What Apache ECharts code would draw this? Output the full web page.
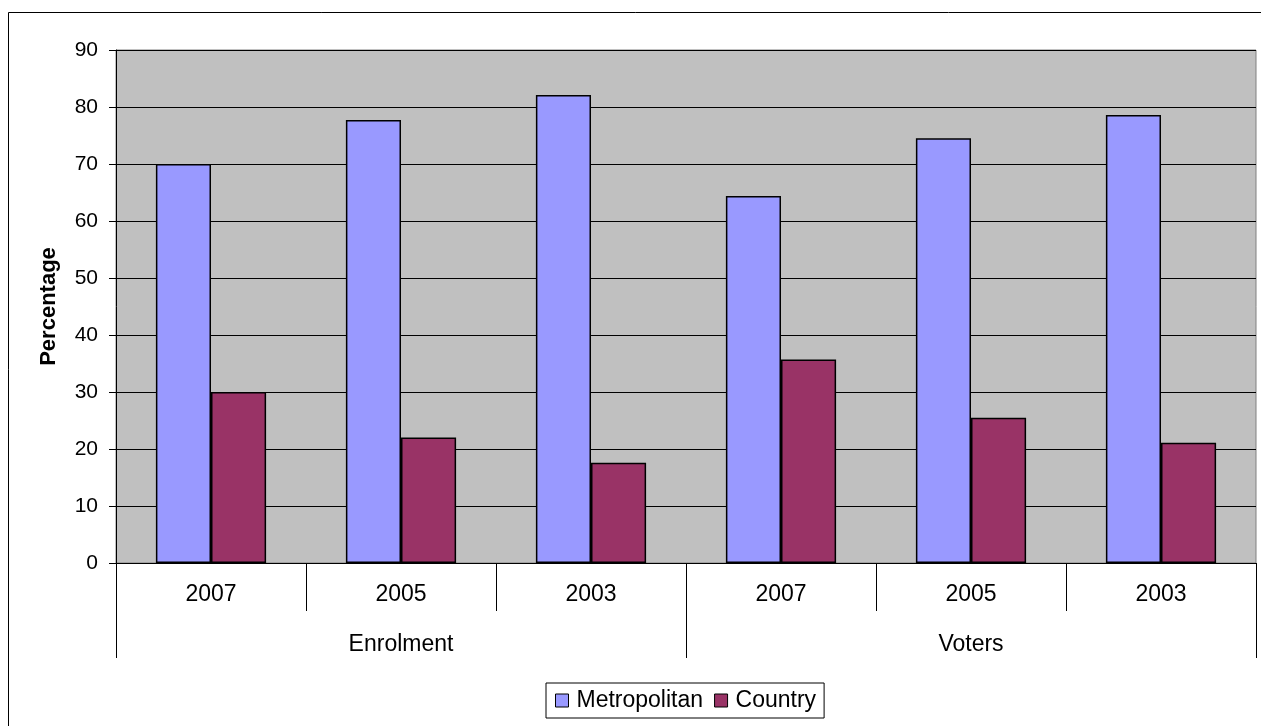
<!DOCTYPE html>
<html>
<head>
<meta charset="utf-8">
<script src="https://cdn.jsdelivr.net/npm/echarts@6/dist/echarts.min.js"></script>
<style>
html,body{margin:0;padding:0;background:#fff;}
#chart{width:1261px;height:726px;}
</style>
</head>
<body>
<div id="chart"></div>
<script>
const years = ['2007', '2005', '2003', '2007', '2005', '2003'];
const groups = ['Enrolment', 'Voters'];
const metropolitan = [70.0, 77.7, 82.1, 64.4, 74.5, 78.6];
const country = [30.0, 22.0, 17.6, 35.7, 25.5, 21.1];
const yTicks = { min: 0, max: 90, interval: 10 };

const FONT = 'Liberation Sans, Arial, sans-serif';
const chart = echarts.init(document.getElementById('chart'), null, { renderer: 'canvas' });

chart.setOption({
  animation: false,
  backgroundColor: '#ffffff',
  textStyle: { fontFamily: FONT, color: '#000' },
  graphic: [{
    type: 'rect',
    shape: { x: 8.5, y: 12.5, width: 1400, height: 900 },
    style: { fill: 'none', stroke: '#000', lineWidth: 1 },
    silent: true,
    z: -10
  }],
  grid: {
    left: 116, right: 5, top: 50, bottom: 163,
    show: true, backgroundColor: '#C0C0C0', borderColor: '#808080', borderWidth: 1
  },
  legend: {
    left: 546, top: 683,
    data: ['Metropolitan', 'Country'],
    icon: 'rect',
    itemWidth: 13, itemHeight: 13, itemGap: 11,
    padding: [6, 8, 6, 9],
    borderColor: '#000', borderWidth: 1,
    textStyle: { fontFamily: FONT, fontSize: 23, color: '#000', padding: [0, 0, 0, 3] },
    itemStyle: { borderColor: '#000', borderWidth: 1 }
  },
  xAxis: [{
    type: 'category',
    data: years,
    position: 'bottom',
    axisLine: { show: true, lineStyle: { color: '#000', width: 1 } },
    axisTick: { show: true, interval: 0, alignWithLabel: false, length: 48, lineStyle: { color: '#000' } },
    axisLabel: { interval: 0, margin: 20, fontFamily: FONT, fontSize: 23, color: '#000' },
    splitLine: { show: false }
  }, {
    type: 'category',
    data: groups,
    position: 'bottom',
    offset: 0,
    axisLine: { show: false },
    axisTick: { show: true, interval: 0, alignWithLabel: false, length: 95, lineStyle: { color: '#000' } },
    axisLabel: { interval: 0, margin: 70, fontFamily: FONT, fontSize: 23, color: '#000' },
    splitLine: { show: false }
  }],
  yAxis: {
    type: 'value',
    min: yTicks.min, max: yTicks.max, interval: yTicks.interval,
    name: 'Percentage',
    nameLocation: 'middle',
    nameGap: 56,
    nameTextStyle: { fontFamily: FONT, fontSize: 22, fontWeight: 'bold', color: '#000' },
    axisLine: { show: true, lineStyle: { color: '#000', width: 1 } },
    axisTick: { show: true, length: 7, lineStyle: { color: '#000' } },
    axisLabel: { margin: 18, fontFamily: FONT, fontSize: 21, color: '#000' },
    splitLine: { show: true, lineStyle: { color: '#000', width: 1 } }
  },
  series: [{
    name: 'Metropolitan',
    type: 'bar',
    xAxisIndex: 0,
    data: metropolitan,
    barGap: '0%',
    barCategoryGap: '42%',
    itemStyle: { color: '#9999FF', borderColor: '#000', borderWidth: 1.5 }
  }, {
    name: 'Country',
    type: 'bar',
    xAxisIndex: 0,
    data: country,
    barGap: '0%',
    barCategoryGap: '42%',
    itemStyle: { color: '#993366', borderColor: '#000', borderWidth: 1.5 }
  }]
});
</script>
</body>
</html>
